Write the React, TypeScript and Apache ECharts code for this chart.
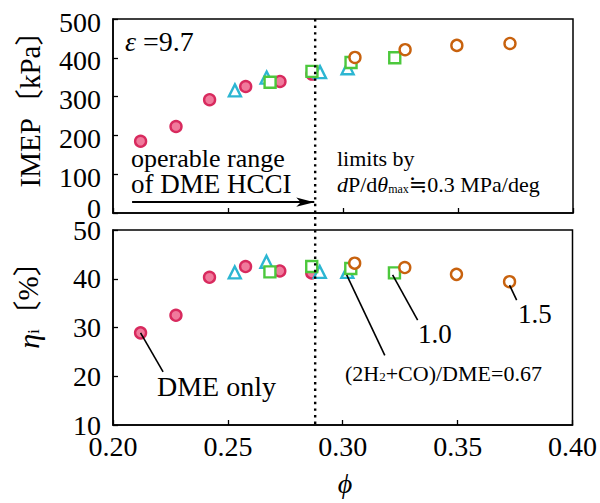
import React, { useEffect, useRef } from "react";
import * as echarts from "echarts";

const SERIF = "'Liberation Serif', 'DejaVu Serif', 'Noto Sans CJK JP', serif";

// φ values and measurements
const phiDME = [0.212, 0.2274, 0.242, 0.2577, 0.2726, 0.2865];
const imepDME = [185, 223, 292, 326, 339, 358];
const etaDME = [28.9, 32.5, 40.3, 42.5, 41.6, 41.2];

const phi067 = [0.253, 0.2668, 0.29, 0.302];
const imep067 = [316, 349, 363, 373];
const eta067 = [41.3, 43.5, 41.4, 41.4];

const phi10 = [0.2683, 0.2865, 0.3035, 0.3225];
const imep10 = [337, 365, 388, 400];
const eta10 = [41.4, 42.5, 42.1, 41.2];

const phi15 = [0.3052, 0.327, 0.3495, 0.3726];
const imep15 = [401, 421, 432, 437];
const eta15 = [43.2, 42.3, 40.9, 39.4];

const xTicks = [0.2, 0.25, 0.3, 0.35, 0.4];
const imepTicks = [0, 100, 200, 300, 400, 500];
const etaTicks = [10, 20, 30, 40, 50];

const DIVIDE_PHI = 0.288;
const ARROW_START = 0.2083;
const ARROW_IMEP = 28;

// leader lines [from, to] in (φ, η)
const leaders = [
  [[0.212, 28.9], [0.2218, 20.9]],
  [[0.3017, 40.8], [0.3183, 24.3]],
  [[0.3217, 40.8], [0.3326, 31.5]],
  [[0.3726, 38.7], [0.3757, 35.6]],
];

const zip = (a: number[], b: number[]) => a.map((v, i) => [v, b[i]]);

const styles = {
  dme: { symbol: "circle", color: "#f07a9c", borderColor: "#d82a5e" },
  r067: { symbol: "triangle", color: "#ffffff", borderColor: "#2cb6d2" },
  r10: { symbol: "rect", color: "#ffffff", borderColor: "#4cc83c" },
  r15: { symbol: "circle", color: "#ffffff", borderColor: "#c8620e" },
};

function scatter(name: string, data: number[][], st: any, gi: number, size: number) {
  return {
    name,
    type: "scatter",
    xAxisIndex: gi,
    yAxisIndex: gi,
    data,
    symbol: st.symbol,
    symbolSize: size,
    z: 3,
    itemStyle: { color: st.color, borderColor: st.borderColor, borderWidth: 2.4, opacity: 1 },
  };
}

export default function App() {
  const ref = useRef<HTMLDivElement>(null);
  useEffect(() => {
    if (!ref.current) return;
    const chart = echarts.init(ref.current, undefined, { renderer: "svg" });
    const axisLine = { show: true, lineStyle: { color: "#000", width: 1.5 } };
    const tick = { show: true, inside: true, length: 5, lineStyle: { color: "#000", width: 1.3 } };
    const label = { color: "#000", fontFamily: SERIF, fontSize: 28, lineHeight: 20 };
    const option: any = {
      animation: false,
      backgroundColor: "#fff",
      grid: [
        { left: 113, right: 27, top: 19, height: 194, show: true, borderColor: "#000", borderWidth: 1.5 },
        { left: 113, right: 27, top: 230, height: 195, show: true, borderColor: "#000", borderWidth: 1.5 },
      ],
      xAxis: [
        {
          gridIndex: 0, type: "value", min: xTicks[0], max: xTicks[xTicks.length - 1], interval: 0.05,
          axisLine, axisTick: tick, splitLine: { show: false }, axisLabel: { show: false },
        },
        {
          gridIndex: 1, type: "value", min: xTicks[0], max: xTicks[xTicks.length - 1], interval: 0.05,
          axisLine, axisTick: tick, splitLine: { show: false },
          axisLabel: { ...label, margin: 11, formatter: (v: number) => v.toFixed(2) },
        },
      ],
      yAxis: [
        {
          gridIndex: 0, type: "value", min: imepTicks[0], max: imepTicks[imepTicks.length - 1], interval: 100,
          axisLine, axisTick: tick, splitLine: { show: false },
          axisLabel: {
            ...label, margin: 12,
            formatter: (v: number) => (v === 0 ? "{z|0}" : "{n|" + v + "}"),
            rich: {
              z: { fontFamily: SERIF, fontSize: 28, color: "#000", lineHeight: 20, padding: [0, 0, 10, 0] },
              n: { fontFamily: SERIF, fontSize: 28, color: "#000", lineHeight: 20, padding: [6, 0, 0, 0] },
            },
          },
        },
        {
          gridIndex: 1, type: "value", min: etaTicks[0], max: etaTicks[etaTicks.length - 1], interval: 10,
          axisLine, axisTick: tick, splitLine: { show: false }, axisLabel: { ...label, margin: 12 },
        },
      ],
      series: [
        {
          type: "scatter", xAxisIndex: 0, yAxisIndex: 0, data: [], z: 1,
          markLine: {
            silent: true, symbol: ["none", "arrow"], symbolSize: [7, 18], label: { show: false },
            lineStyle: { color: "#000", width: 2, type: "solid" },
            data: [[{ coord: [ARROW_START, ARROW_IMEP] }, { coord: [DIVIDE_PHI - 0.0005, ARROW_IMEP] }]],
          },
        },
        {
          type: "scatter", xAxisIndex: 1, yAxisIndex: 1, data: [], z: 1,
          markLine: {
            silent: true, symbol: ["none", "none"], label: { show: false },
            lineStyle: { color: "#000", width: 1.6, type: "solid" },
            data: leaders.map((l) => [{ coord: l[0] }, { coord: l[1] }]),
          },
        },
        scatter("DME only", zip(phiDME, imepDME), styles.dme, 0, 11),
        scatter("0.67", zip(phi067, imep067), styles.r067, 0, 12),
        scatter("1.0", zip(phi10, imep10), styles.r10, 0, 11),
        scatter("1.5", zip(phi15, imep15), styles.r15, 0, 11),
        scatter("DME only", zip(phiDME, etaDME), styles.dme, 1, 11),
        scatter("0.67", zip(phi067, eta067), styles.r067, 1, 12),
        scatter("1.0", zip(phi10, eta10), styles.r10, 1, 11),
        scatter("1.5", zip(phi15, eta15), styles.r15, 1, 11),
      ],
    };
    chart.setOption(option);

    const xd = chart.convertToPixel({ xAxisIndex: 1 }, DIVIDE_PHI) as number;
    const yTop = chart.convertToPixel({ yAxisIndex: 0 }, 500) as number;
    const yBot = chart.convertToPixel({ yAxisIndex: 1 }, 10) as number;

    const txt = (x: number, y: number, text: string, size: number, rich?: any, lh?: number) => ({
      type: "text", x, y, z: 10,
      style: { text, fontFamily: SERIF, fontSize: size, lineHeight: lh, fill: "#000", align: "left", verticalAlign: "middle", rich },
    });
    const italic = (size: number) => ({ fontStyle: "italic", fontFamily: SERIF, fontSize: size });

    chart.setOption({
      graphic: [
        {
          type: "line", z: 5,
          shape: { x1: xd, y1: yTop, x2: xd, y2: yBot },
          style: { stroke: "#000", lineWidth: 2.4, lineDash: [2.4, 4.2] },
        },
        txt(125, 41, "{i|ε} =9.7", 28, { i: italic(28) }),
        txt(131, 158, "operable range", 26, undefined, 22),
        txt(131, 184, "of DME HCCI", 27, undefined, 22),
        txt(337, 158, "limits by", 22),
        txt(337, 184, "{i|d}P/d{i|θ}{s|max}≒0.3 MPa/deg", 22, {
          i: italic(22),
          s: { fontFamily: SERIF, fontSize: 12, padding: [9, 0, 0, 0] },
        }),
        txt(157, 386, "DME only", 28),
        txt(418, 334, "1.0", 27),
        txt(518, 314, "1.5", 27),
        txt(345, 373, "(2H{s|2}+CO)/DME=0.67", 22, {
          s: { fontFamily: SERIF, fontSize: 13, padding: [7, 0, 0, 0] },
        }),
        {
          type: "text", x: 30, y: 102, rotation: Math.PI / 2, z: 10,
          style: { text: "IMEP〔kPa〕", fontFamily: SERIF, fontSize: 29, fill: "#000", align: "center", verticalAlign: "middle" },
        },
        {
          type: "text", x: 28, y: 298, rotation: Math.PI / 2, z: 10,
          style: {
            text: "{i|η}{s|i}〔%〕", fontFamily: SERIF, fontSize: 29, fill: "#000", align: "center", verticalAlign: "middle",
            rich: { i: italic(30), s: { fontFamily: SERIF, fontSize: 16, padding: [10, 0, 0, 0] } },
          },
        },
        {
          type: "text", x: 345, y: 483, z: 10,
          style: { text: "ϕ", fontFamily: SERIF, fontStyle: "italic", fontSize: 28, fill: "#000", align: "center", verticalAlign: "middle" },
        },
      ],
    });
    return () => chart.dispose();
  }, []);
  return <div ref={ref} style={{ position: "fixed", left: 0, top: 0, width: 600, height: 503 }} />;
}
